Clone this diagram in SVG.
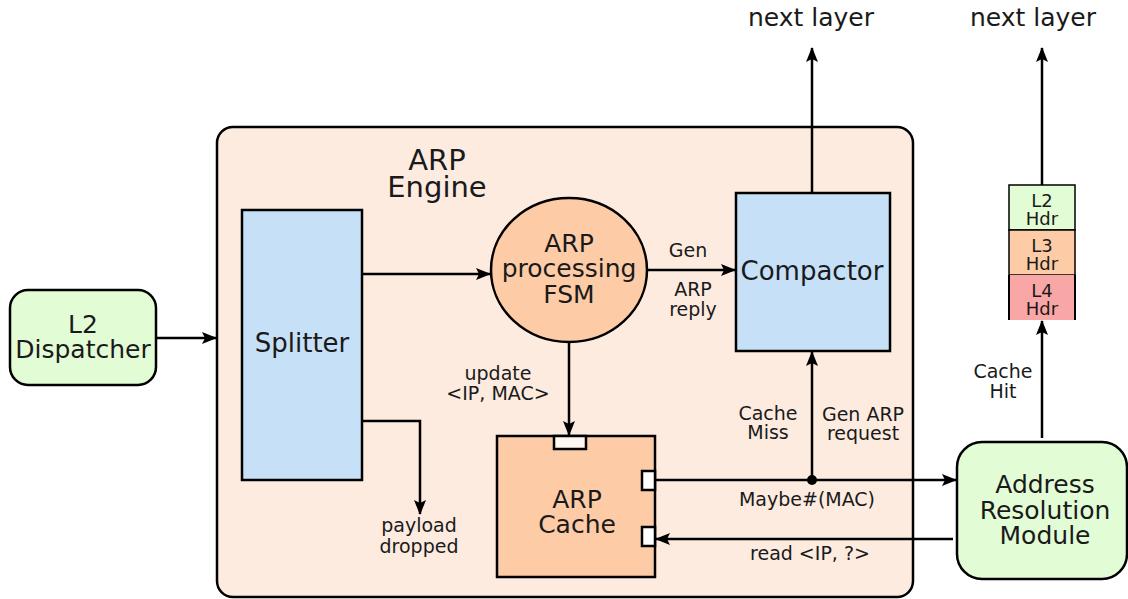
<svg xmlns="http://www.w3.org/2000/svg" width="1128" height="599" viewBox="0 0 1128 599">
<defs>
<marker id="ah" markerWidth="15" markerHeight="12" refX="14" refY="6" orient="auto" markerUnits="userSpaceOnUse">
<path d="M0,0 L15,6 L0,12 L3,6 Z" fill="#000"/>
</marker>
<style>
text{font-family:"DejaVu Sans","Liberation Sans",sans-serif;fill:#1a1a1a;text-anchor:middle}
.big{font-size:26px}
.mid{font-size:25px}
.sm{font-size:19px}
.hdr{font-size:18px}
.node{stroke:#000;stroke-width:2.5}
.edge{stroke:#000;stroke-width:2.5;fill:none}
</style>
</defs>
<rect width="1128" height="599" fill="#fff"/>
<g id="engine">
<rect class="node" x="217" y="127" width="696" height="470" rx="16" fill="#fdebe0"/>
<text x="437" y="170" style="font-size:29px">ARP</text>
<text x="437" y="197" style="font-size:29px">Engine</text>
</g>
<g id="dispatcher">
<rect class="node" x="10" y="290" width="146" height="95" rx="18" fill="#e2fcd6"/>
<text class="mid" x="83" y="333">L2</text>
<text class="mid" x="83" y="358">Dispatcher</text>
</g>
<g id="splitter">
<rect class="node" x="242" y="210" width="120" height="270" fill="#c6e0f7"/>
<text class="big" x="302" y="352">Splitter</text>
</g>
<g id="fsm">
<ellipse class="node" cx="569" cy="270" rx="78" ry="72" fill="#fdcba6"/>
<text class="mid" x="569" y="252">ARP</text>
<text class="mid" x="569" y="277">processing</text>
<text class="mid" x="569" y="303">FSM</text>
</g>
<g id="compactor">
<rect class="node" x="736" y="193" width="154" height="158" fill="#c6e0f7"/>
<text class="big" x="812" y="280">Compactor</text>
</g>
<g id="cache">
<rect class="node" x="497" y="436" width="158" height="141" fill="#fdcba6"/>
<rect class="node" x="554" y="436" width="32" height="13" fill="#fff7f2"/>
<rect class="node" x="642" y="471" width="13" height="19" fill="#fff"/>
<rect class="node" x="642" y="527" width="13" height="19" fill="#fff"/>
<text class="mid" x="577" y="508">ARP</text>
<text class="mid" x="577" y="533">Cache</text>
</g>
<g id="arm">
<rect class="node" x="957" y="442" width="170" height="137" rx="25" fill="#e2fcd6"/>
<text class="mid" x="1045" y="493">Address</text>
<text class="mid" x="1045" y="519">Resolution</text>
<text class="mid" x="1045" y="544">Module</text>
</g>
<g id="headers">
<rect x="1009" y="185" width="66" height="45" fill="#e2fcd6" stroke="#000" stroke-width="1.5"/>
<rect x="1009" y="230" width="66" height="45" fill="#fdcba6" stroke="#000" stroke-width="1.5"/>
<rect x="1009" y="275" width="66" height="45" fill="#f9a6a6"/>
<path d="M1009,275 V320 M1075,275 V320" stroke="#000" stroke-width="2"/>
<text class="hdr" x="1042" y="207">L2</text>
<text class="hdr" x="1042" y="225">Hdr</text>
<text class="hdr" x="1042" y="252">L3</text>
<text class="hdr" x="1042" y="270">Hdr</text>
<text class="hdr" x="1042" y="297">L4</text>
<text class="hdr" x="1042" y="315">Hdr</text>
</g>
<g id="connectors">
<path class="edge" d="M156,338 H216" marker-end="url(#ah)"/>
<path class="edge" d="M362,274 H490" marker-end="url(#ah)"/>
<path class="edge" d="M647,270 H735" marker-end="url(#ah)"/>
<path class="edge" d="M812,193 V48" marker-end="url(#ah)"/>
<path class="edge" d="M1042,185 V48" marker-end="url(#ah)"/>
<path class="edge" d="M569,342 V435" marker-end="url(#ah)"/>
<path class="edge" d="M362,421 H420 V514" marker-end="url(#ah)"/>
<path class="edge" d="M655,480 H956" marker-end="url(#ah)"/>
<path class="edge" d="M812,480 V352" marker-end="url(#ah)"/>
<circle cx="812" cy="480" r="5" fill="#000"/>
<path class="edge" d="M953,539 H656" marker-end="url(#ah)"/>
<path class="edge" d="M1042,438 V321" marker-end="url(#ah)"/>
</g>
<g id="labels">
<text x="811" y="26" style="font-size:25px">next layer</text>
<text x="1033" y="26" style="font-size:25px">next layer</text>
<text class="sm" x="688" y="257">Gen</text>
<text class="sm" x="693" y="296">ARP</text>
<text class="sm" x="693" y="316">reply</text>
<text class="sm" x="498" y="380">update</text>
<text class="sm" x="498" y="400">&lt;IP, MAC&gt;</text>
<text class="sm" x="419" y="532">payload</text>
<text class="sm" x="419" y="553">dropped</text>
<text class="sm" x="768" y="420">Cache</text>
<text class="sm" x="768" y="439">Miss</text>
<text class="sm" x="863" y="421">Gen ARP</text>
<text class="sm" x="863" y="440">request</text>
<text class="sm" x="807" y="506">Maybe#(MAC)</text>
<text class="sm" x="810" y="560">read &lt;IP, ?&gt;</text>
<text class="sm" x="1003" y="378">Cache</text>
<text class="sm" x="1003" y="398">Hit</text>
</g>
</svg>
